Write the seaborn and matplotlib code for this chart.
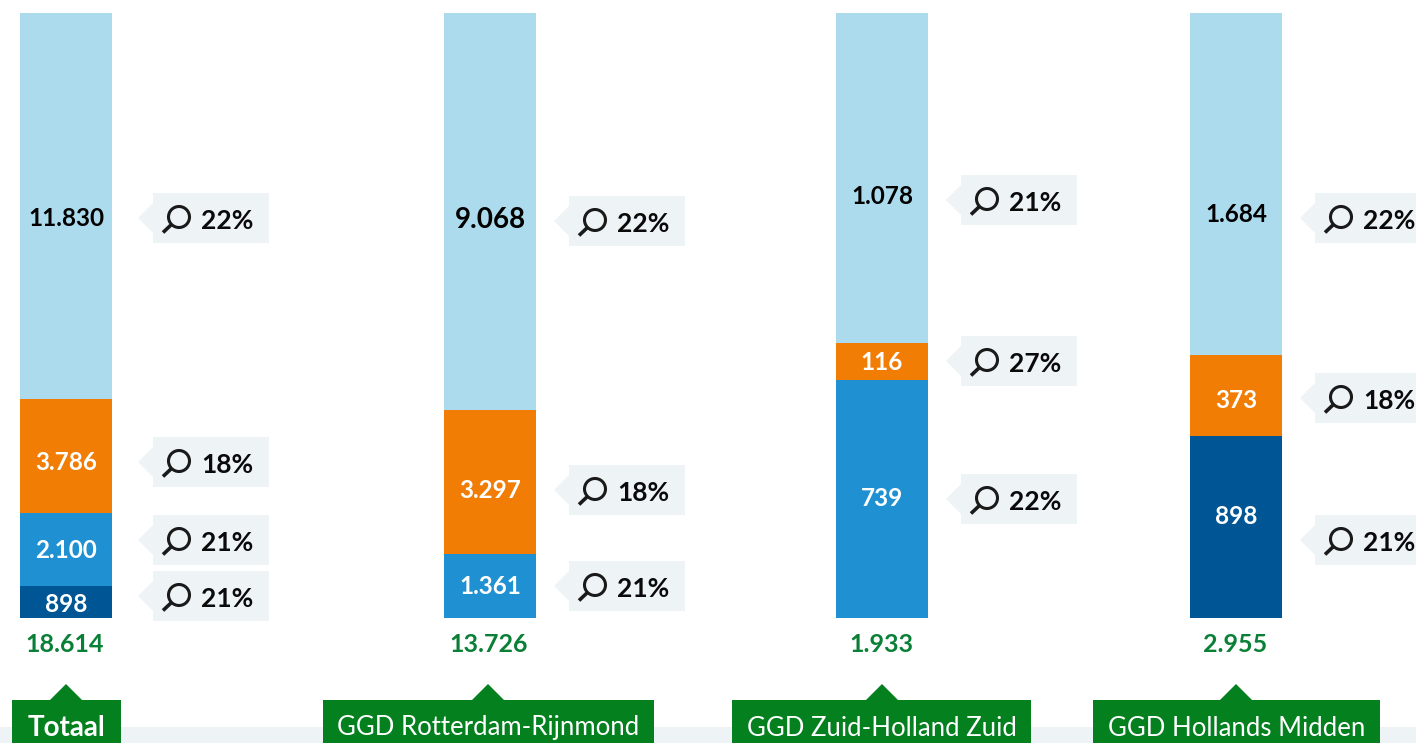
import matplotlib
matplotlib.use("Agg")
import matplotlib.pyplot as plt
from matplotlib.patches import Circle, Polygon, Rectangle
import seaborn as sns

sns.set_theme(style="white")
plt.rcParams["font.family"] = ["Lato", "DejaVu Sans"]

W, H = 1416, 743

groups = ["Totaal", "GGD Rotterdam-Rijnmond", "GGD Zuid-Holland Zuid", "GGD Hollands Midden"]
totals = [18614, 13726, 1933, 2955]

# top of the bar comes first
totaal_values = [11830, 3786, 2100, 898]
rotterdam_values = [9068, 3297, 1361]
zuid_values = [1078, 116, 739]
midden_values = [1684, 373, 898]

# the segments are not drawn strictly to scale, so share of bar height is read separately
totaal_shares = [63.8, 18.8, 12.1, 5.3]
rotterdam_shares = [65.6, 23.8, 10.6]
zuid_shares = [54.5, 6.1, 39.4]
midden_shares = [56.5, 13.4, 30.1]

totaal_pct = [22, 18, 21, 21]
rotterdam_pct = [22, 18, 21]
zuid_pct = [21, 27, 22]
midden_pct = [22, 18, 21]

# colours
LIGHT = "#ABDBEC"
ORANGE = "#F17D05"
BLUE = "#1F90D2"
DARK = "#005594"
GREEN = "#04801F"
TOTAL_GREEN = "#0A8037"
PALE = "#EEF3F6"

totaal_colors = [LIGHT, ORANGE, BLUE, DARK]
rotterdam_colors = [LIGHT, ORANGE, BLUE]
zuid_colors = [LIGHT, ORANGE, BLUE]
midden_colors = [LIGHT, ORANGE, DARK]

# layout in pixels
bar_left = [20, 444, 836, 1190]
bar_width = 92
bar_top, bar_bottom = 13, 618
box_left = [153, 569, 961, 1315]
box_width, box_height = 116, 50
tag_left = [12, 323, 732, 1093]
tag_right = [121, 654, 1031, 1380]
tag_tip = [66, 488, 882, 1236]
label_y = [[217, 460, 549, 602], [218, 488, 584], [195, 361, 496], [212, 399, 514]]
box_y = [[218, 462, 540, 596], [221, 490, 586], [200, 361, 499], [218, 398, 540]]

all_values = [totaal_values, rotterdam_values, zuid_values, midden_values]
all_shares = [totaal_shares, rotterdam_shares, zuid_shares, midden_shares]
all_pct = [totaal_pct, rotterdam_pct, zuid_pct, midden_pct]
all_colors = [totaal_colors, rotterdam_colors, zuid_colors, midden_colors]


def nl(n):
    return f"{n:,}".replace(",", ".")


fig = plt.figure(figsize=(W / 100, H / 100), dpi=100, facecolor="white")

# one small axes per bar
for i, name in enumerate(groups):
    ax = fig.add_axes([bar_left[i] / W, (H - bar_bottom) / H, bar_width / W, (bar_bottom - bar_top) / H])
    bottom = 0
    for share, col in zip(all_shares[i][::-1], all_colors[i][::-1]):
        sns.barplot(x=[name], y=[share], bottom=bottom, color=col, width=1, saturation=1, linewidth=0, ax=ax)
        bottom += share
    ax.set_xlim(-0.5, 0.5)
    ax.set_ylim(0, 100)
    ax.axis("off")

# overlay in pixel coordinates for labels, callouts and tags
ov = fig.add_axes([0, 0, 1, 1], facecolor="none")
ov.set_xlim(0, W)
ov.set_ylim(H, 0)
ov.axis("off")

ov.add_patch(Rectangle((0, 727), W, 16, color=PALE, lw=0))


def callout(x, y, pct):
    ov.add_patch(Rectangle((x, y - box_height / 2), box_width, box_height, color=PALE, lw=0))
    ov.add_patch(Polygon([(x - 15, y), (x, y - 15), (x, y + 15)], color=PALE, lw=0))
    ov.add_patch(Circle((x + 26, y - 1), 10.5, fill=False, ec="#1a1a1a", lw=2.2))
    ov.plot([x + 19, x + 10], [y + 6, y + 14.5], color="#1a1a1a", lw=2.6, solid_capstyle="butt")
    ov.text(x + 48, y + 3, f"{pct}%", fontsize=19, fontweight="bold", color="#0a0a0a", ha="left", va="center")


for i, name in enumerate(groups):
    cx = bar_left[i] + bar_width / 2
    for j, v in enumerate(all_values[i]):
        col = "black" if all_colors[i][j] == LIGHT else "white"
        size = 20 if v == 9068 else 17.5
        ov.text(cx, label_y[i][j] + 2, nl(v), fontsize=size, fontweight="bold", color=col, ha="center", va="center")
        callout(box_left[i], box_y[i][j], all_pct[i][j])

    ov.text(cx - 1, 645, nl(totals[i]), fontsize=18, fontweight="bold", color=TOTAL_GREEN, ha="center", va="center")

    ov.add_patch(Rectangle((tag_left[i], 700), tag_right[i] - tag_left[i], 43, color=GREEN, lw=0))
    ov.add_patch(Polygon([(tag_tip[i] - 16, 700), (tag_tip[i], 684), (tag_tip[i] + 16, 700)], color=GREEN, lw=0))
    weight = "bold" if i == 0 else "normal"
    size = 20 if i == 0 else 18.5
    ov.text((tag_left[i] + tag_right[i]) / 2, 728, name, fontsize=size, fontweight=weight, color="white", ha="center", va="center")

fig.savefig("out.png", dpi=100)
